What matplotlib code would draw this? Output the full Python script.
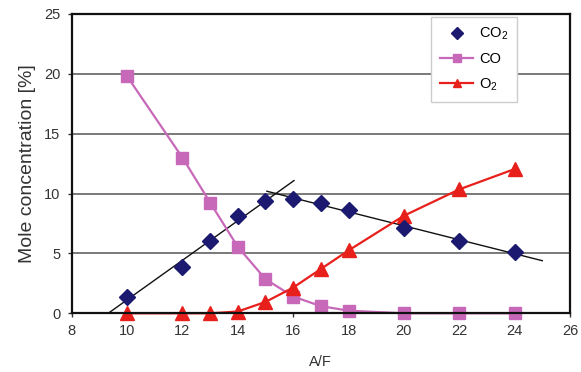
import numpy as np
import matplotlib
matplotlib.use("Agg")
import matplotlib.pyplot as plt

plt.rcParams['font.family'] = ['Liberation Sans', 'DejaVu Sans']
plt.rcParams['mathtext.fontset'] = 'custom'
plt.rcParams['mathtext.rm'] = 'Liberation Sans'
plt.rcParams['mathtext.it'] = 'Liberation Sans'

# Air/fuel ratio and measured mole fractions [%]
af = [10, 12, 13, 14, 15, 16, 17, 18, 20, 22, 24]
co2 = [1.4, 3.9, 6.0, 8.1, 9.35, 9.55, 9.2, 8.6, 7.1, 6.05, 5.1]
co = [19.8, 13.0, 9.25, 5.55, 2.85, 1.4, 0.6, 0.22, 0.0, 0.0, 0.0]
o2 = [0.0, 0.0, 0.0, 0.15, 0.95, 2.15, 3.7, 5.25, 8.15, 10.35, 12.05]

# Linear trend ranges for CO2 (rich side / lean side)
rich_idx = slice(0, 5)
lean_idx = slice(5, 11)
rich_span = [9.32, 16.03]
lean_span = [15.05, 25.0]

xticks = [8, 10, 12, 14, 16, 18, 20, 22, 24, 26]
yticks = [0, 5, 10, 15, 20, 25]

fig = plt.figure(figsize=(5.81, 3.72), dpi=100)
ax = fig.add_axes([0.1234, 0.1578, 0.8577, 0.8046])

for y in yticks[1:-1]:
    ax.axhline(y, color='#555555', lw=1.1, zorder=1)

x_arr = np.array(af, dtype=float)
y_arr = np.array(co2, dtype=float)
p1 = np.polyfit(x_arr[rich_idx], y_arr[rich_idx], 1)
p2 = np.polyfit(x_arr[lean_idx], y_arr[lean_idx], 1)
xs1 = np.array(rich_span)
xs2 = np.array(lean_span)
ax.plot(xs1, np.polyval(p1, xs1), color='#111111', lw=1.0, zorder=3)
ax.plot(xs2, np.polyval(p2, xs2), color='#111111', lw=1.0, zorder=3)

ax.plot(af, co, color='#c868b8', lw=1.6, marker='s', ms=8,
        mec='#c868b8', mfc='#c868b8', label='CO', zorder=4, clip_on=False)
ax.plot(af, o2, color='#e8201c', lw=1.6, marker='^', ms=9.5,
        mec='#e8201c', mfc='#e8201c', label='O$_2$', zorder=5, clip_on=False)
ax.plot(af, co2, ls='none', marker='D', ms=8.5, color='#1c1a70',
        label='CO$_2$', zorder=6, clip_on=False)

ax.set_xlim(8, 26)
ax.set_ylim(0, 25)
ax.set_xticks(xticks)
ax.set_yticks(yticks)
ax.tick_params(axis='both', labelsize=10.5, colors='#333333', length=3,
               width=1, direction='out', pad=5)
for sp in ax.spines.values():
    sp.set_linewidth(1.6)
    sp.set_color('#111111')
    sp.set_zorder(7)

ax.set_xlabel('A/F', fontsize=10.5, color='#333333', labelpad=12)
ax.set_ylabel('Mole concentration [%]', fontsize=14, color='#333333', labelpad=6)

handles, labels = ax.get_legend_handles_labels()
order = [2, 0, 1]
leg = ax.legend([handles[i] for i in order], [labels[i] for i in order],
                loc='upper right', bbox_to_anchor=(0.894, 0.99),
                borderaxespad=0, markerscale=0.68,
                fontsize=10.5, frameon=True, fancybox=False, framealpha=1,
                edgecolor='#cccccc', handlelength=2.3, borderpad=0.6,
                labelspacing=0.7, handletextpad=0.4)
leg.get_frame().set_linewidth(1.0)
leg.set_zorder(10)

fig.savefig('out.png', dpi=100)
